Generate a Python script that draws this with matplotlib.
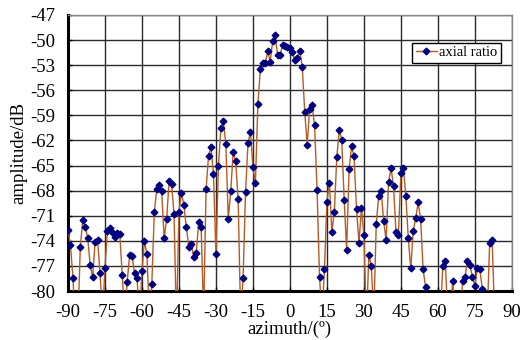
import numpy as np
import matplotlib
matplotlib.use('Agg')
import matplotlib.pyplot as plt

azimuth = list(range(-90, 84))
amplitude = [
    -72.7, -74.5, -78.4, -84.0, -84.0, -74.7, -71.5, -72.3, -73.7, -76.9,   # -90..-81
    -78.3, -74.1, -73.9, -77.9, -83.0, -77.2, -72.8, -72.5, -72.9, -73.6,   # -80..-71
    -73.1, -73.2, -78.1, -83.0, -78.9, -75.7, -75.8, -77.9, -78.5, -83.0,   # -70..-61
    -77.6, -74.0, -75.6, -83.0, -79.1, -70.6, -67.8, -67.3, -68.1, -73.7,   # -60..-51
    -71.4, -66.9, -67.2, -70.8, -84.0, -70.5, -68.3, -69.7, -72.4, -74.7,   # -50..-41
    -74.4, -75.9, -75.4, -71.8, -72.4, -83.0, -67.8, -63.8, -62.8, -66.0,   # -40..-31
    -75.6, -65.1, -60.5, -59.7, -62.4, -71.4, -68.0, -63.4, -64.5, -69.0,   # -30..-21
    -83.0, -78.5, -68.2, -62.3, -61.0, -65.2, -67.1, -57.7, -53.5, -52.8,   # -20..-11
    -52.8, -51.3, -52.6, -50.1, -49.4, -51.8, -51.8, -50.6, -50.7, -50.8,   # -10..-1
    -50.9, -51.4, -52.4, -52.2, -51.3, -53.2, -58.6, -62.5, -58.2, -57.8,   # 0..9
    -60.2, -67.9, -78.3, -83.0, -77.4, -69.3, -67.1, -72.9, -70.6, -64.0,   # 10..19
    -60.8, -61.9, -69.1, -75.1, -65.4, -62.7, -63.9, -70.2, -74.2, -70.1,   # 20..29
    -73.3, -84.0, -75.7, -77.0, -83.0, -72.0, -68.6, -68.0, -71.6, -73.9,   # 30..39
    -67.0, -65.3, -67.4, -73.0, -73.3, -65.9, -65.3, -68.6, -73.7, -77.3,   # 40..49
    -72.8, -71.3, -69.4, -71.4, -77.4, -79.5, -83.0, -84.0, -84.0, -83.0,   # 50..59
    -84.0, -83.0, -77.0, -76.4, -83.0, -83.0, -78.8, -83.0, -84.0, -83.0,   # 60..69
    -78.8, -78.3, -76.4, -76.9, -78.3, -79.4, -77.2, -77.4, -79.7, -83.0,   # 70..79
    -83.0, -74.2, -73.9, -83.0,                                             # 80..83
]

x_ticks = list(range(-90, 91, 15))
y_ticks = list(range(-80, -46, 3))

plt.rcParams['font.family'] = ['Liberation Serif', 'DejaVu Serif']
plt.rcParams['axes.unicode_minus'] = False

fig = plt.figure(figsize=(5.25, 3.4), dpi=100)
ax = fig.add_axes([0.1295, 0.144, 0.8455, 0.812])

ax.plot(azimuth, amplitude, color='#b85a24', lw=1.0, marker='D', markersize=3.4,
        markerfacecolor='#000080', markeredgecolor='#000080', label='axial ratio', zorder=3)

ax.set_xlim(-90, 90)
ax.set_ylim(-80, -47)
ax.set_xticks(x_ticks)
ax.set_yticks(y_ticks)
ax.grid(True, color='#2a2a2a', lw=1.0)
ax.set_axisbelow(True)

for s in ['top', 'right']:
    ax.spines[s].set_color('#888888')
    ax.spines[s].set_linewidth(1.0)
for s in ['left', 'bottom']:
    ax.spines[s].set_color('black')
    ax.spines[s].set_linewidth(2.2)

ax.tick_params(direction='in', length=3, width=1, labelsize=13.5)
ax.tick_params(axis='x', pad=9)
ax.tick_params(axis='y', pad=9)
ax.set_xlabel('azimuth/(º)', fontsize=13.5, labelpad=0)
ax.set_ylabel('amplitude/dB', fontsize=13.5, labelpad=2)

leg = ax.legend(loc='upper right', bbox_to_anchor=(0.975, 0.9), fontsize=10.5,
                frameon=True, fancybox=False, framealpha=1, edgecolor='black',
                handlelength=1.5, handletextpad=0.1, borderpad=0.25, borderaxespad=0)
leg.get_frame().set_linewidth(1.0)

plt.savefig('out.png', dpi=100)
plt.close()
